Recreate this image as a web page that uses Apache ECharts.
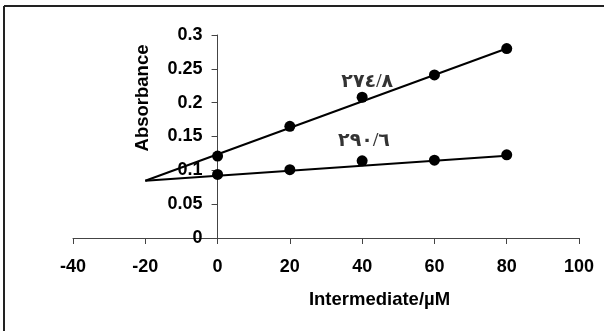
<!DOCTYPE html>
<html>
<head>
<meta charset="utf-8">
<script src="https://cdn.jsdelivr.net/npm/echarts@6/dist/echarts.min.js"></script>
<style>html,body{margin:0;padding:0;background:#fff;}#c{width:604px;height:331px;}</style>
</head>
<body>
<div id="c"></div>
<script>
// Data
var xValues = [0, 20, 40, 60, 80];
var series274 = [0.121, 0.165, 0.208, 0.241, 0.280];
var series290 = [0.094, 0.101, 0.114, 0.115, 0.123];
var trendX = [-20, 80];
var trend274 = [0.0847, 0.280];
var trend290 = [0.0847, 0.1215];
var seriesLabels = ['\u0662\u0667\u0664/\u0668', '\u0662\u0669\u0660/\u0666'];
var labelX = [41.4, 40.5];
var labelY = [0.2305, 0.1433];
var xTicks = { min: -40, max: 100, interval: 20 };
var yTicks = { min: 0, max: 0.3, interval: 0.05 };
var xTitle = 'Intermediate/\u00b5M';
var yTitle = 'Absorbance';

function pairs(xs, ys) { return xs.map(function (x, i) { return [x, ys[i]]; }); }

var gridLeft = 73, gridRight = 25;
var plotW = 604 - gridLeft - gridRight;
// shift the y axis so it crosses the x axis at x = 0
var yAxisOffset = -plotW * (0 - xTicks.min) / (xTicks.max - xTicks.min);

var chart = echarts.init(document.getElementById('c'), null, { renderer: 'canvas' });
var axisFont = { color: '#000', fontWeight: 'bold', fontSize: 18, fontFamily: 'Liberation Sans, Arial, sans-serif' };
var option = {
  animation: false,
  backgroundColor: '#fff',
  grid: { left: gridLeft, right: gridRight, top: 35, bottom: 93, containLabel: false },
  xAxis: {
    type: 'value', min: xTicks.min, max: xTicks.max, interval: xTicks.interval,
    axisLine: { onZero: true, lineStyle: { color: '#444', width: 1 } },
    axisTick: { show: true, inside: false, length: 6, lineStyle: { color: '#444' } },
    axisLabel: Object.assign({ margin: 20 }, axisFont),
    splitLine: { show: false }
  },
  yAxis: {
    type: 'value', min: yTicks.min, max: yTicks.max, interval: yTicks.interval,
    position: 'left', offset: yAxisOffset,
    axisLine: { onZero: false, lineStyle: { color: '#444', width: 1 } },
    axisTick: { show: true, inside: false, length: 6, lineStyle: { color: '#444' } },
    axisLabel: Object.assign({ margin: 15 }, axisFont),
    splitLine: { show: false }
  },
  graphic: [
    { type: 'line', shape: { x1: 4, y1: 6, x2: 604, y2: 6 }, style: { stroke: '#222', lineWidth: 2 } },
    { type: 'line', shape: { x1: 4, y1: 6, x2: 4, y2: 331 }, style: { stroke: '#222', lineWidth: 2 } },
    { type: 'text', x: 143, y: 98, rotation: Math.PI / 2,
      style: { text: yTitle, fill: '#000', font: 'bold 18.5px "Liberation Sans", Arial, sans-serif', textAlign: 'center', textVerticalAlign: 'middle' } },
    { type: 'text', x: 379.5, y: 300,
      style: { text: xTitle, fill: '#000', font: 'bold 18.5px "Liberation Sans", Arial, sans-serif', textAlign: 'center', textVerticalAlign: 'middle' } }
  ],
  series: [
    { type: 'line', data: pairs(trendX, trend274), showSymbol: false, symbol: 'none',
      lineStyle: { color: '#000', width: 2 }, silent: true, z: 2 },
    { type: 'line', data: pairs(trendX, trend290), showSymbol: false, symbol: 'none',
      lineStyle: { color: '#000', width: 2 }, silent: true, z: 2 },
    { type: 'scatter', data: pairs(xValues, series274), symbol: 'circle', symbolSize: 11,
      itemStyle: { color: '#000', opacity: 1 }, z: 3 },
    { type: 'scatter', data: pairs(xValues, series290), symbol: 'circle', symbolSize: 11,
      itemStyle: { color: '#000', opacity: 1 }, z: 3 },
    { type: 'scatter', symbolSize: 0, z: 4,
      data: seriesLabels.map(function (t, i) { return { name: t, value: [labelX[i], labelY[i]] }; }),
      label: { show: true, position: 'inside', formatter: '{b}', color: '#000', fontSize: 19, fontWeight: 'bold',
               fontFamily: '"Liberation Serif", "Times New Roman", "DejaVu Sans", serif' } }
  ]
};
chart.setOption(option);
</script>
</body>
</html>
